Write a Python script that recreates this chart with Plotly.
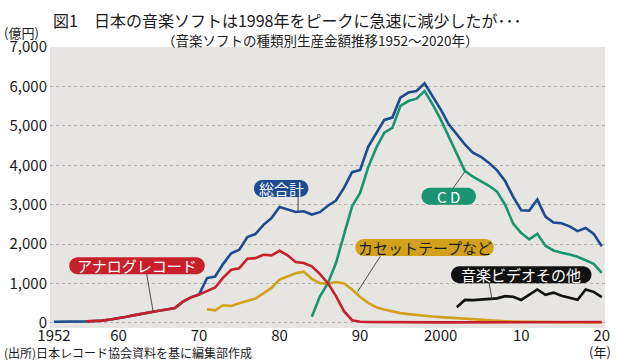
import plotly.graph_objects as go

# ---------------- data (億円) ----------------
years_total = list(range(1952, 2021))
total = [30, 30, 30, 35, 40, 50, 60, 90, 120, 160, 200, 240, 280, 310, 340, 380, 540, 650,
         720, 1140, 1180, 1500, 1770, 1860, 2180, 2255, 2490, 2660, 2940, 2875, 2815, 2835,
         2750, 2810, 2975, 3105, 3425, 3825, 3880, 4470, 4825, 5150, 5210, 5715, 5845, 5885,
         6080, 5760, 5420, 5040, 4785, 4530, 4320, 4215, 4060, 3870, 3600, 3200, 2860, 2850,
         3130, 2700, 2550, 2530, 2450, 2330, 2410, 2260, 1945]

years_analog = list(range(1956, 2021))
analog = [40, 50, 60, 90, 120, 160, 200, 240, 280, 310, 340, 380, 540, 650, 720, 810, 900,
          1150, 1350, 1390, 1630, 1645, 1730, 1715, 1830, 1715, 1545, 1520, 1435, 1245, 1010,
          680, 300, 70, 30, 25, 22, 20, 20, 18, 18, 17, 17, 16, 16, 15, 15, 14, 13, 12, 11, 10,
          9, 8, 8, 8, 9, 10, 11, 12, 14, 17, 20, 22, 24]

years_cassette = list(range(1971, 2021))
cassette = [350, 320, 450, 430, 500, 560, 620, 750, 890, 1100, 1180, 1260, 1300, 1120, 1010,
            1000, 1040, 1000, 850, 660, 510, 400, 340, 290, 250, 225, 200, 180, 165, 150, 135,
            120, 105, 90, 80, 65, 55, 45, 38, 32, 28, 25, 22, 20, 18, 17, 16, 15, 15, 14]

years_cd = list(range(1984, 2021))
cd = [160, 670, 1010, 1520, 2240, 2960, 3300, 3950, 4440, 4825, 4950, 5505, 5630, 5690, 5885,
      5545, 5165, 4740, 4300, 3860, 3710, 3590, 3480, 3330, 3000, 2520, 2280, 2120, 2260, 1960,
      1840, 1780, 1740, 1680, 1590, 1500, 1270]

years_video = list(range(2002, 2021))
video = [400, 585, 580, 590, 600, 625, 680, 665, 585, 720, 850, 715, 770, 690, 640, 590, 850,
         790, 655]

x_tickvals = [1952, 1960, 1970, 1980, 1990, 2000, 2010, 2020]
x_ticktext = ["1952", "60", "70", "80", "90", "2000", "10", "20"]
y_tickvals = [0, 1000, 2000, 3000, 4000, 5000, 6000, 7000]
y_ticktext = ["0", "1,000", "2,000", "3,000", "4,000", "5,000", "6,000", "7,000"]

# ---------------- style ----------------
FONT = "Noto Sans CJK JP"
BLUE = "#1d4b90"
RED = "#c8202b"
GOLD = "#d2a11c"
GREEN = "#1b9471"
BLACK = "#111111"
BG = "#e7e5e2"

W, H = 620, 361
L, R, T, B = 49, 610, 47, 328
X0, X1 = 1951.5, 2020.4
Y0, Y1 = -127, 7000


def to_px(x, y):
    return (L + (x - X0) / (X1 - X0) * (R - L), B - (y - Y0) / (Y1 - Y0) * (B - T))


def to_data(px, py):
    return (X0 + (px - L) / (R - L) * (X1 - X0), Y0 + (B - py) / (B - T) * (Y1 - Y0))


def pill_path(cx, cy, w, h):
    pcx, pcy = to_px(cx, cy)
    r = h / 2.0
    k = 0.5523 * r
    xa, xb = pcx - w / 2 + r, pcx + w / 2 - r
    top, bot = pcy - r, pcy + r
    pts = [
        ("M", [(xa, top)]),
        ("L", [(xb, top)]),
        ("C", [(xb + k, top), (xb + r, pcy - k), (xb + r, pcy)]),
        ("C", [(xb + r, pcy + k), (xb + k, bot), (xb, bot)]),
        ("L", [(xa, bot)]),
        ("C", [(xa - k, bot), (xa - r, pcy + k), (xa - r, pcy)]),
        ("C", [(xa - r, pcy - k), (xa - k, top), (xa, top)]),
    ]
    s = ""
    for cmd, plist in pts:
        coords = []
        for (px, py) in plist:
            dx, dy = to_data(px, py)
            coords.append(f"{dx:.4f},{dy:.3f}")
        s += cmd + " " + " ".join(coords) + " "
    return s + "Z"


fig = go.Figure()


def add_line(xs, ys, color, name):
    fig.add_trace(go.Scatter(x=xs, y=ys, mode="lines", name=name,
                             line=dict(color=color, width=2.6), hoverinfo="skip"))


add_line(years_total, total, BLUE, "総合計")
add_line(years_cassette, cassette, GOLD, "カセットテープなど")
add_line(years_cd, cd, GREEN, "CD")
add_line(years_analog, analog, RED, "アナログレコード")
add_line(years_video, video, BLACK, "音楽ビデオその他")

# labels: text, center (year, value), width px, fill, text color, leader line
labels = [
    ("総合計", 1980.2, 3410, 55, BLUE, "white", (1982.3, 3195, 1982.3, 2840)),
    ("アナログレコード", 1962.3, 1450, 137, RED, "white", (1963.5, 1243, 1964.3, 287)),
    ("C D", 2001.0, 3215, 55, GREEN, "white", (2001.55, 3424, 2003.0, 3837)),
    ("カセットテープなど", 1998.0, 1915, 140, GOLD, "#1a1a1a", (1992.5, 1690, 1989.7, 800)),
    ("音楽ビデオその他", 2010.0, 1225, 142, BLACK, "white", (2006.0, 1022, 2006.4, 583)),
]

shapes = []
annotations = []
for text, cx, cy, w, fill, tcol, ld in labels:
    shapes.append(dict(type="line", xref="x", yref="y", x0=ld[0], y0=ld[1], x1=ld[2], y1=ld[3],
                       line=dict(color="#3a3a3a", width=0.9), layer="above"))
    shapes.append(dict(type="path", xref="x", yref="y", path=pill_path(cx, cy, w, 17),
                       fillcolor=fill, line=dict(width=0), layer="above"))
    annotations.append(dict(x=cx, y=cy, xref="x", yref="y", text=text, showarrow=False,
                            font=dict(family=FONT, size=15, color=tcol),
                            xanchor="center", yanchor="middle"))


def paper(px, py):
    return ((px - L) / (R - L), (B - py) / (B - T))


def add_text(text, px, py, size, xanchor="left", color="#1a1a1a"):
    xp, yp = paper(px, py)
    annotations.append(dict(x=xp, y=yp, xref="paper", yref="paper", text=text,
                            showarrow=False, xanchor=xanchor, yanchor="middle",
                            font=dict(family=FONT, size=size, color=color)))


add_text("図1　日本の音楽ソフトは1998年をピークに急速に減少したが･･･", 50, 20, 16)
add_text("（音楽ソフトの種類別生産金額推移1952～2020年）", 160, 40, 13.5)
add_text("(億円)", 0, 32, 13)
add_text("(出所)日本レコード協会資料を基に編集部作成", 0, 352, 12)
add_text("(年)", 605, 351, 13, xanchor="center")

fig.update_layout(
    width=W, height=H,
    margin=dict(l=L, r=W - R, t=T, b=H - B),
    paper_bgcolor="white",
    plot_bgcolor=BG,
    showlegend=False,
    font=dict(family=FONT, color="#1a1a1a"),
    shapes=shapes,
    annotations=annotations,
    xaxis=dict(range=[X0, X1], tickvals=x_tickvals, ticktext=x_ticktext,
               showgrid=False, zeroline=False, showline=False, ticks="",
               ticklabelstandoff=-3,
               tickfont=dict(family=FONT, size=15, color="#1a1a1a")),
    yaxis=dict(range=[Y0, Y1], tickvals=y_tickvals, ticktext=y_ticktext,
               showgrid=True, gridcolor="#b5b1ab", griddash="dot", gridwidth=1,
               zeroline=False, showline=False, ticks="", ticklabelstandoff=2,
               tickfont=dict(family=FONT, size=15, color="#1a1a1a")),
)

fig.write_html("out.html", config={"displayModeBar": False},
               post_script="document.body.style.margin='0';")
